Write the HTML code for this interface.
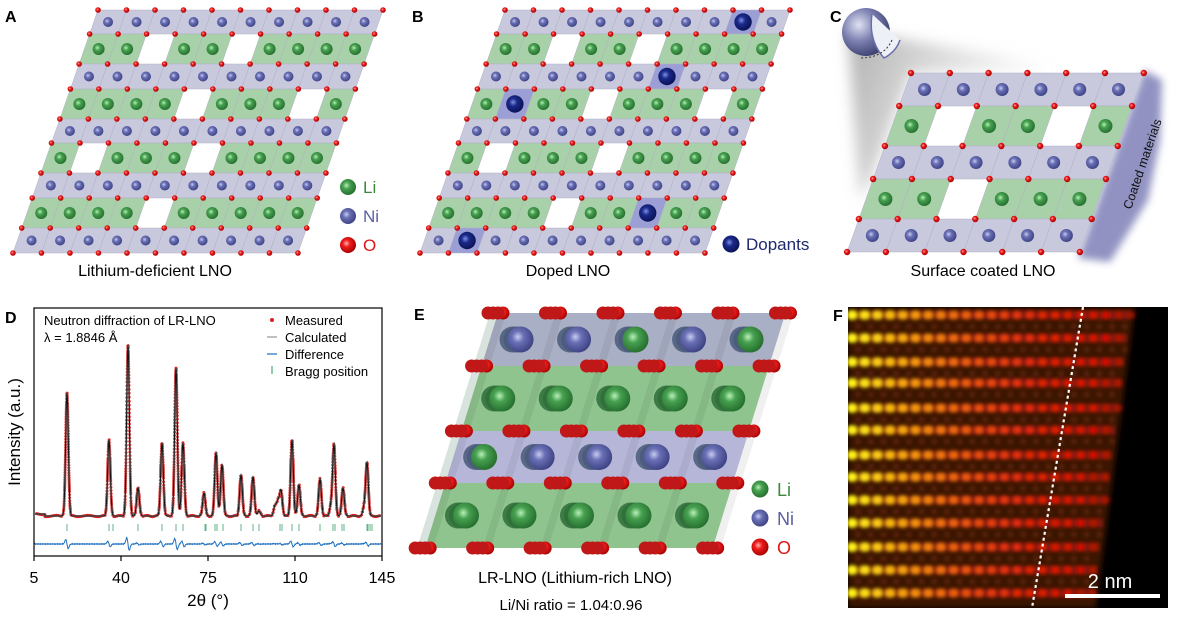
<!DOCTYPE html>
<html><head><meta charset="utf-8">
<style>
html,body{margin:0;padding:0;background:#fff;}
svg{display:block;font-family:"Liberation Sans",Arial,sans-serif;}
</style></head>
<body>
<svg id="s" width="1190" height="624" viewBox="0 0 1190 624" xmlns="http://www.w3.org/2000/svg">
<defs>
<radialGradient id="gNi" cx="0.4" cy="0.4" r="0.65"><stop offset="0" stop-color="#c8cbf0"/><stop offset="0.35" stop-color="#6a70b5"/><stop offset="1" stop-color="#3a3f80"/></radialGradient>
<radialGradient id="gLi" cx="0.4" cy="0.4" r="0.65"><stop offset="0" stop-color="#b8f0b8"/><stop offset="0.35" stop-color="#47a050"/><stop offset="1" stop-color="#236b2c"/></radialGradient>
<radialGradient id="gO" cx="0.4" cy="0.4" r="0.65"><stop offset="0" stop-color="#ffb0b0"/><stop offset="0.35" stop-color="#ee1c1c"/><stop offset="1" stop-color="#a00000"/></radialGradient>
<radialGradient id="gD" cx="0.4" cy="0.4" r="0.65"><stop offset="0" stop-color="#8090e0"/><stop offset="0.35" stop-color="#1a2a8a"/><stop offset="1" stop-color="#0a1050"/></radialGradient>
<radialGradient id="gSph" cx="0.35" cy="0.35" r="0.7"><stop offset="0" stop-color="#e0e2f2"/><stop offset="0.5" stop-color="#7a7fb0"/><stop offset="1" stop-color="#3a3f70"/></radialGradient>
<linearGradient id="gShadow" x1="0" y1="0" x2="1" y2="0.3"><stop offset="0" stop-color="#999" stop-opacity="0.8"/><stop offset="1" stop-color="#ccc" stop-opacity="0"/></linearGradient>
<filter id="blur4"><feGaussianBlur stdDeviation="4"/></filter>
<filter id="blur6"><feGaussianBlur stdDeviation="7"/></filter>
<filter id="blur1"><feGaussianBlur stdDeviation="1.8"/></filter>
<filter id="blur3"><feGaussianBlur stdDeviation="3"/></filter>
<clipPath id="clipF"><rect x="848" y="307" width="320" height="301"/></clipPath>
</defs>
<g id="root"></g>
</svg>
<script>
var NS="http://www.w3.org/2000/svg";
var root=document.getElementById('root');
function el(tag,attrs,parent,text){var e=document.createElementNS(NS,tag);for(var k in attrs)e.setAttribute(k,attrs[k]);if(text!==undefined)e.textContent=text;(parent||root).appendChild(e);return e;}
function txt(x,y,t,size,fill,extra){var a={x:x,y:y,'font-size':size,fill:fill||'#000'};for(var k in extra)a[k]=extra[k];return el('text',a,null,t);}

function lattice(X0,Y0,w,s,bounds,rows,rN,rL,rO){
  var g=el('g',{});
  function xl(y){return X0-s*(y-Y0);}
  var atoms=[];
  for(var r=0;r<rows.length;r++){
    var y1=bounds[r],y2=bounds[r+1];
    for(var i=0;i<rows[r].length;i++){
      var c=rows[r][i];
      if(c==='W')continue;
      var fill=(c==='L')?'#a9d1a9':(c==='D')?'#9b9fd6':'#c9c9de';
      var p=[[xl(y1)+i*w,y1],[xl(y1)+(i+1)*w,y1],[xl(y2)+(i+1)*w,y2],[xl(y2)+i*w,y2]];
      el('polygon',{points:p.map(function(q){return q.join(',')}).join(' '),fill:fill,stroke:'#b0b0c4','stroke-width':0.5},g);
      var cx=(xl(y1)+xl(y2))/2+(i+0.5)*w, cy=(y1+y2)/2;
      atoms.push([cx,cy,c]);
    }
  }
  atoms.forEach(function(a){
    var r=a[2]==='L'?rL:a[2]==='D'?rL*1.45:rN;
    el('circle',{cx:a[0],cy:a[1],r:r,fill:a[2]==='L'?'url(#gLi)':a[2]==='D'?'url(#gD)':'url(#gNi)'},g);
  });
  var n=rows[0].length;
  for(var b=0;b<bounds.length;b++){
    for(var i=0;i<=n;i++){
      el('circle',{cx:xl(bounds[b])+i*w,cy:bounds[b],r:rO,fill:'url(#gO)'},g);
    }
  }
}
var bA=[10,34,64,89,119,143,173,198,228,253];
var N10='NNNNNNNNNN';
lattice(98,10,28.5,0.35,bA,[N10,'LLWLLWLLLL',N10,'LLLLWLLLWL',N10,'LWLLLWLLLL',N10,'LLLLWLLLLL',N10],5,6,2.8);
lattice(505,10,28.5,0.35,bA,['NNNNNNNNDN','LLWLLWLLLL','NNNNNNDNNN','LDLLWLLLWL',N10,'LWLLLWLLLL',N10,'LLLLWLLDLL','NDNNNNNNNN'],5,6,2.8);

el('polygon',{points:'848,30 1000,55 1060,70 911,73 870,180 860,200',fill:'url(#gShadow)',filter:'url(#blur6)'});
el('polygon',{points:'1144,70 1162,80 1160,140 1148,200 1110,262 1078,258',fill:'#7e80b8',opacity:0.85,filter:'url(#blur4)'});
lattice(911,73,38.8,0.357,[73,106,146,179,219,252],['NNNNNN','LWLLWL','NNNNNN','LLWLLL','NNNNNN'],6.5,7,3.2);
el('circle',{cx:866,cy:32,r:24,fill:'url(#gSph)'});
el('path',{d:'M 872 14 Q 868 40 884 58 Q 896 52 900 40',fill:'#eef0f8',stroke:'#6a6fa8','stroke-width':1.5});
el('path',{d:'M 892 40 Q 884 58 860 58',fill:'none',stroke:'#333','stroke-width':1,'stroke-dasharray':'2,2'});
txt(1131,210,'Coated materials',12.5,'#111',{transform:'rotate(-71 1131 210)'});

[['gLi','Li','#3b8a3b',187],['gNi','Ni','#5a5fa0',216],['gO','O','#e01515',245]].forEach(function(l){
  el('circle',{cx:348,cy:l[3],r:8,fill:'url(#'+l[0]+')'});txt(363,l[3]+6,l[1],17,l[2]);
});
el('circle',{cx:731,cy:244,r:8.5,fill:'url(#gD)'});txt(746,250,'Dopants',17,'#1f2a6e');
txt(155,276,'Lithium-deficient LNO',16,'#000',{'text-anchor':'middle'});
txt(568,276,'Doped LNO',16,'#000',{'text-anchor':'middle'});
txt(983,276,'Surface coated LNO',16,'#000',{'text-anchor':'middle'});
[['A',5,22],['B',412,22],['C',830,22],['D',5,323],['E',414,320],['F',833,321]].forEach(function(l){txt(l[1],l[2],l[0],16,'#000',{'font-weight':'bold'});});

/* ---------- D ---------- */
function X(t){return 34+(t-5)*348/140;}
var peaks=[[67,123],[109,76],[128,171],[138,28],[162,73],[176,148],[183,73],[204,23],[216,63],[222,51],[241,41],[253,39],[259,5],[275,10],[278,14],[281,25],[292,76],[299,31],[320,37],[331,10],[334,71],[343,28],[364,8],[367,53]];
function I(x){var v=0;peaks.forEach(function(p){var d=(x-p[0])/1.35;v+=p[1]*Math.exp(-d*d/2);});return 516-v+(x<45?-2:0);}
var calc='';
for(var x=35;x<=381;x+=0.2){calc+=(x===35?'M':'L')+x.toFixed(2)+','+I(x).toFixed(2);}
var gD=el('g',{});
var dots='';
var px=35,py=I(35),acc=0;
for(var x=35;x<=381;x+=0.05){var y=I(x);acc+=Math.hypot(x-px,y-py);px=x;py=y;
  if(acc>=1.6){acc=0;var yy=y+Math.sin(x*7.3)*0.7;dots+='M'+(x-1.5).toFixed(2)+','+yy.toFixed(2)+'a1.5,1.5 0 1,0 3,0a1.5,1.5 0 1,0 -3,0';}}
el('path',{d:dots,fill:'#e02020'},gD);
el('path',{d:calc,fill:'none',stroke:'#999','stroke-width':1.6},gD);
el('path',{d:calc,fill:'none',stroke:'#111','stroke-width':1},gD);
[67,109,113,138,162,176,183,205,206,215,217,223,241,253,259,280,282,292,299,320,333,335,342,344,367,368,370,372].forEach(function(b){el('line',{x1:b,x2:b,y1:524,y2:531,stroke:'#3aa06a','stroke-width':0.8},gD);});
var dif='M35,544';
for(var x=35;x<=381;x+=0.5){var v=0;peaks.forEach(function(p){var d=(x-p[0]);v+=(p[1]/20)*d*Math.exp(-d*d/3);});dif+='L'+x+','+(544+Math.max(-7,Math.min(7,v))+Math.sin(x*5)*0.4).toFixed(2);}
el('path',{d:dif,fill:'none',stroke:'#1e6fc0','stroke-width':1},gD);
el('rect',{x:34,y:308,width:348,height:248,fill:'none',stroke:'#000','stroke-width':1.2});
[5,40,75,110,145].forEach(function(t){var x=X(t);el('line',{x1:x,x2:x,y1:556,y2:561,stroke:'#000','stroke-width':1.2});txt(x,583,String(t),16,'#000',{'text-anchor':'middle'});});
txt(208,606,'2θ (°)',17,'#000',{'text-anchor':'middle'});
txt(20,432,'Intensity (a.u.)',17,'#000',{'text-anchor':'middle',transform:'rotate(-90 20 432)'});
txt(44,325,'Neutron diffraction of LR-LNO',13);
txt(44,342,'λ = 1.8846 Å',13);
el('circle',{cx:272,cy:320,r:2,fill:'#e21d1d'});txt(285,325,'Measured',13);
el('line',{x1:267,x2:277,y1:337,y2:337,stroke:'#aaa','stroke-width':1.5});txt(285,342,'Calculated',13);
el('line',{x1:267,x2:277,y1:354,y2:354,stroke:'#1e6fc0','stroke-width':1.2});txt(285,359,'Difference',13);
el('line',{x1:272,x2:272,y1:366,y2:374,stroke:'#1e9a5a','stroke-width':1});txt(285,376,'Bragg position',13);

/* ---------- E ---------- */
(function(){
  var bounds=[313,366,431,483,548],X0=498,Y0=313,w=57.5,s=0.31;
  function xl(y){return X0-s*(y-Y0);}
  var g=el('g',{});
  el('polygon',{points:[[xl(313)-8,313],[xl(313)+5*w-8,313],[xl(548)+5*w-8,548],[xl(548)-8,548]].map(function(q){return q.join(',')}).join(' '),fill:'#cfdcd4',opacity:0.8},g);
  var types=[['N','N','L','N','L'],['L','L','L','L','L'],['L','N','N','N','N'],['L','L','L','L','L']];
  var bandFill=['#a9afc4','#8fc48f','#b6b6d8','#8fc48f'];
  for(var r=0;r<4;r++){
    var y1=bounds[r],y2=bounds[r+1];
    el('polygon',{points:[[xl(y1),y1],[xl(y1)+5*w,y1],[xl(y2)+5*w,y2],[xl(y2),y2]].map(function(q){return q.join(',')}).join(' '),fill:bandFill[r]},g);
    for(var i=0;i<=5;i++){var xa=xl(y1)+i*w,xb=xl(y2)+i*w;el('polygon',{points:xa+','+y1+' '+(xa+8)+','+y1+' '+(xb+8)+','+y2+' '+xb+','+y2,fill:'#000',opacity:0.06},g);}
  }
  for(var r=0;r<4;r++){
    var y1=bounds[r],y2=bounds[r+1],cy=(y1+y2)/2;
    for(var i=0;i<5;i++){
      var cx=(xl(y1)+xl(y2))/2+(i+0.5)*w+2;
      var t=types[r][i];
      for(var k=2;k>=0;k--){
        var f=(k===0)?(t==='L'?'url(#gLi)':'url(#gNi)'):(r%2===0?'#4a5a7a':'#2f6e3a');
        el('circle',{cx:cx-k*4,cy:cy,r:13,fill:f,opacity:k===0?1:0.85},g);
      }
    }
  }
  bounds.forEach(function(y){
    for(var i=0;i<=5;i++){
      var cx=xl(y)+i*w;
      for(var k=3;k>=0;k--){el('circle',{cx:cx-10+k*5,cy:y,r:6.5,fill:k===3?'url(#gO)':'#c01818'},g);}
    }
  });
})();
[['gLi','Li','#3b8a3b',489],['gNi','Ni','#5a5fa0',518],['gO','O','#e01515',547]].forEach(function(l){
  el('circle',{cx:760,cy:l[3],r:8.5,fill:'url(#'+l[0]+')'});txt(777,l[3]+7,l[1],18,l[2]);
});
txt(575,583,'LR-LNO (Lithium-rich LNO)',16,'#000',{'text-anchor':'middle'});
txt(571,610,'Li/Ni ratio = 1.04:0.96',15,'#000',{'text-anchor':'middle'});

/* ---------- F ---------- */
(function(){
  var g=el('g',{'clip-path':'url(#clipF)'});
  el('rect',{x:848,y:307,width:320,height:301,fill:'#000'},g);
  function edge(y){return 1135-(y-307)*0.13;}
  el('polygon',{points:'848,307 '+edge(307)+',307 '+edge(608)+',608 848,608',fill:'#3a1806',filter:'url(#blur3)'},g);
  var gb=el('g',{filter:'url(#blur1)'},g);
  var rowsY=[315,338,362,383,408,430,455,477,500,523,547,570,593];
  rowsY.forEach(function(y,ri){
    var e=edge(y);
    el('line',{x1:848,x2:e-4,y1:y,y2:y,stroke:'#8a1a0a','stroke-width':9,opacity:0.9},gb);
    var yy=y+11.5;
    if(ri<12) for(var x=858;x<e-6;x+=12.7){el('circle',{cx:x,cy:yy,r:3,fill:'#5a2208'},gb);}
    for(var x=852;x<e-2;x+=12.7){
      var f=(x-848)/(e-848);
      var g1=Math.round(235*(1-f)*(1-f)+15), b1=Math.round(20*(1-f));
      var col='rgb('+Math.round(255-45*f)+','+g1+','+b1+')';
      el('circle',{cx:x,cy:y,r:5-1.2*f,fill:col,opacity:(x>e-20?0.6:1)},gb);
    }
  });
  el('line',{x1:1083,y1:307,x2:1032,y2:608,stroke:'#fff','stroke-width':2.2,'stroke-dasharray':'3,3'},g);
  el('line',{x1:1065,x2:1160,y1:596,y2:596,stroke:'#fff','stroke-width':4},g);
  txt(1110,588,'2 nm',20,'#fff',{'text-anchor':'middle'});
})();
</script>
</body></html>
